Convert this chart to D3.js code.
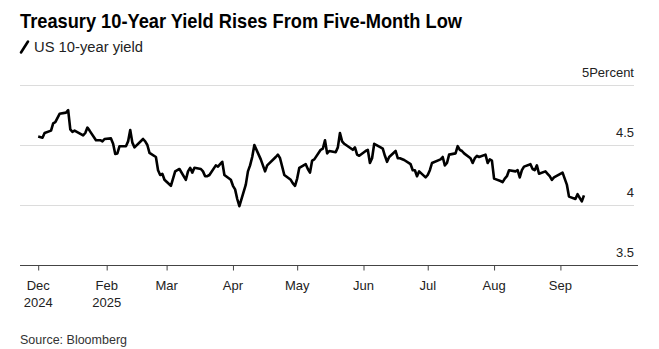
<!DOCTYPE html>
<html>
<head>
<meta charset="utf-8">
<script src="https://cdn.jsdelivr.net/npm/d3@7/dist/d3.min.js"></script>
<style>
  html, body { margin: 0; padding: 0; background: #fff; }
  svg { display: block; font-family: "Liberation Sans", Arial, sans-serif; }
</style>
</head>
<body>
<svg id="chart" width="659" height="349"></svg>
<script>
const title = "Treasury 10-Year Yield Rises From Five-Month Low";
const legendLabel = "US 10-year yield";
const source = "Source: Bloomberg";

const dates = [
  "2024-12-31","2025-01-02","2025-01-03","2025-01-06","2025-01-07","2025-01-08","2025-01-10","2025-01-13","2025-01-14","2025-01-15",
  "2025-01-16","2025-01-17","2025-01-21","2025-01-22","2025-01-23","2025-01-24","2025-01-27","2025-01-28","2025-01-29","2025-01-30",
  "2025-01-31","2025-02-03","2025-02-04","2025-02-05","2025-02-06","2025-02-07","2025-02-10","2025-02-11","2025-02-12","2025-02-13",
  "2025-02-14","2025-02-18","2025-02-19","2025-02-20","2025-02-21","2025-02-24","2025-02-25","2025-02-26","2025-02-27","2025-02-28",
  "2025-03-03","2025-03-04","2025-03-05","2025-03-06","2025-03-07","2025-03-10","2025-03-11","2025-03-12","2025-03-13","2025-03-14",
  "2025-03-17","2025-03-18","2025-03-19","2025-03-20","2025-03-21","2025-03-24","2025-03-25","2025-03-26","2025-03-27","2025-03-28",
  "2025-03-31","2025-04-01","2025-04-02","2025-04-03","2025-04-04","2025-04-07","2025-04-08","2025-04-09","2025-04-10","2025-04-11",
  "2025-04-14","2025-04-15","2025-04-16","2025-04-17","2025-04-21","2025-04-22","2025-04-23","2025-04-24","2025-04-25","2025-04-28",
  "2025-04-29","2025-04-30","2025-05-01","2025-05-02","2025-05-05","2025-05-06","2025-05-07","2025-05-08","2025-05-09","2025-05-12",
  "2025-05-13","2025-05-14","2025-05-15","2025-05-16","2025-05-19","2025-05-20","2025-05-21","2025-05-22","2025-05-23","2025-05-27",
  "2025-05-28","2025-05-29","2025-05-30","2025-06-02","2025-06-03","2025-06-04","2025-06-05","2025-06-06","2025-06-09","2025-06-10",
  "2025-06-11","2025-06-12","2025-06-13","2025-06-16","2025-06-17","2025-06-18","2025-06-20","2025-06-23","2025-06-24","2025-06-25",
  "2025-06-26","2025-06-27","2025-06-30","2025-07-01","2025-07-02","2025-07-03","2025-07-07","2025-07-08","2025-07-09","2025-07-10",
  "2025-07-11","2025-07-14","2025-07-15","2025-07-16","2025-07-17","2025-07-18","2025-07-21","2025-07-22","2025-07-23","2025-07-24",
  "2025-07-25","2025-07-28","2025-07-29","2025-07-30","2025-07-31","2025-08-01","2025-08-04","2025-08-05","2025-08-06","2025-08-07",
  "2025-08-08","2025-08-11","2025-08-12","2025-08-13","2025-08-14","2025-08-15","2025-08-18","2025-08-19","2025-08-20","2025-08-21",
  "2025-08-22","2025-08-25","2025-08-26","2025-08-27","2025-08-28","2025-08-29","2025-09-02","2025-09-03","2025-09-04","2025-09-05",
  "2025-09-08","2025-09-09","2025-09-10","2025-09-11","2025-09-12"
];
const yields = [
  4.57,4.56,4.60,4.62,4.68,4.69,4.76,4.77,4.79,4.63,
  4.61,4.62,4.58,4.60,4.645,4.62,4.54,4.54,4.54,4.53,
  4.55,4.555,4.51,4.425,4.43,4.49,4.49,4.53,4.625,4.52,
  4.48,4.55,4.53,4.50,4.435,4.40,4.29,4.25,4.26,4.21,
  4.16,4.22,4.28,4.29,4.30,4.21,4.28,4.31,4.27,4.31,
  4.30,4.28,4.24,4.24,4.25,4.33,4.32,4.34,4.36,4.25,
  4.21,4.16,4.13,4.05,3.99,4.17,4.28,4.33,4.40,4.50,
  4.38,4.33,4.28,4.33,4.40,4.42,4.39,4.32,4.25,4.21,
  4.18,4.16,4.22,4.31,4.34,4.30,4.27,4.37,4.38,4.46,
  4.47,4.54,4.43,4.45,4.44,4.48,4.60,4.53,4.51,4.46,
  4.48,4.42,4.41,4.45,4.46,4.35,4.39,4.51,4.48,4.47,
  4.41,4.36,4.40,4.45,4.39,4.39,4.375,4.34,4.29,4.29,
  4.24,4.28,4.23,4.25,4.29,4.35,4.38,4.40,4.33,4.35,
  4.42,4.43,4.49,4.46,4.45,4.43,4.39,4.35,4.39,4.41,
  4.40,4.42,4.35,4.38,4.37,4.22,4.20,4.19,4.22,4.24,
  4.29,4.28,4.29,4.23,4.29,4.32,4.34,4.30,4.29,4.33,
  4.26,4.28,4.26,4.24,4.21,4.23,4.27,4.22,4.17,4.07,
  4.05,4.09,4.06,4.03,4.08
];

const yTicks = [3.5, 4, 4.5, 5];
const yTickLabels = ["3.5", "4", "4.5", "5"];
const yUnit = "Percent";
const xTickDates = ["2024-12-31","2025-02-01","2025-03-01","2025-04-01","2025-05-01","2025-06-01","2025-07-01","2025-08-01","2025-09-01"];
const xTickMonths = ["Dec","Feb","Mar","Apr","May","Jun","Jul","Aug","Sep"];
const xTickYears = ["2024","2025","","","","","","",""];

const parse = d3.timeParse("%Y-%m-%d");
const data = dates.map((d, i) => ({ date: parse(d), value: yields[i] }));

const svg = d3.select("#chart");

const x = d3.scaleTime()
  .domain([new Date(2024, 11, 22, 12), new Date(2025, 9, 7, 6)])
  .range([20, 638]);
const y = d3.scaleLinear().domain([3.5, 5]).range([265, 85]);

// title
svg.append("text")
  .attr("x", 20).attr("y", 28)
  .attr("font-size", 21).attr("font-weight", "bold").attr("fill", "#000")
  .attr("textLength", 442).attr("lengthAdjust", "spacingAndGlyphs")
  .text(title);

// legend
svg.append("line")
  .attr("x1", 21).attr("y1", 52.5).attr("x2", 28).attr("y2", 41.5)
  .attr("stroke", "#000").attr("stroke-width", 2.6).attr("stroke-linecap", "round");
svg.append("text")
  .attr("x", 34).attr("y", 51.5)
  .attr("font-size", 14).attr("fill", "#222")
  .attr("textLength", 109).attr("lengthAdjust", "spacingAndGlyphs")
  .text(legendLabel);

// gridlines
const grid = yTicks.filter(t => t !== 3.5);
svg.append("g").selectAll("line").data(grid).join("line")
  .attr("x1", 20).attr("x2", 634)
  .attr("y1", d => Math.round(y(d)) + 0.5).attr("y2", d => Math.round(y(d)) + 0.5)
  .attr("stroke", "#dcdcdc").attr("stroke-width", 1);

// y labels
svg.append("g").selectAll("text").data(yTicks).join("text")
  .attr("x", 634).attr("y", d => y(d) - 8)
  .attr("text-anchor", "end").attr("font-size", 13).attr("fill", "#222")
  .text((d, i) => yTickLabels[i] + (d === 5 ? yUnit : ""));

// x axis
const xAxis = d3.axisBottom(x)
  .tickValues(xTickDates.map(parse))
  .tickSize(5)
  .tickFormat("");
const gx = svg.append("g").attr("transform", `translate(0,${Math.round(y(3.5)) + 0.5})`).call(xAxis);
gx.select(".domain").attr("stroke", "#444").attr("d", "M20,0H638");
gx.selectAll(".tick line").attr("stroke", "#444");

svg.append("g").selectAll("text").data(xTickDates).join("text")
  .attr("x", d => x(parse(d))).attr("y", 290)
  .attr("text-anchor", "middle").attr("font-size", 13).attr("fill", "#222")
  .text((d, i) => xTickMonths[i]);
svg.append("g").selectAll("text").data(xTickDates).join("text")
  .attr("x", d => x(parse(d))).attr("y", 307)
  .attr("text-anchor", "middle").attr("font-size", 13).attr("fill", "#222")
  .text((d, i) => xTickYears[i]);

// line
const line = d3.line().x(d => x(d.date)).y(d => y(d.value));
svg.append("path").datum(data)
  .attr("d", line)
  .attr("fill", "none").attr("stroke", "#000")
  .attr("stroke-width", 2.6).attr("stroke-linejoin", "round");

// source
svg.append("text")
  .attr("x", 20).attr("y", 344)
  .attr("font-size", 12.5).attr("fill", "#333")
  .text(source);
</script>
</body>
</html>
